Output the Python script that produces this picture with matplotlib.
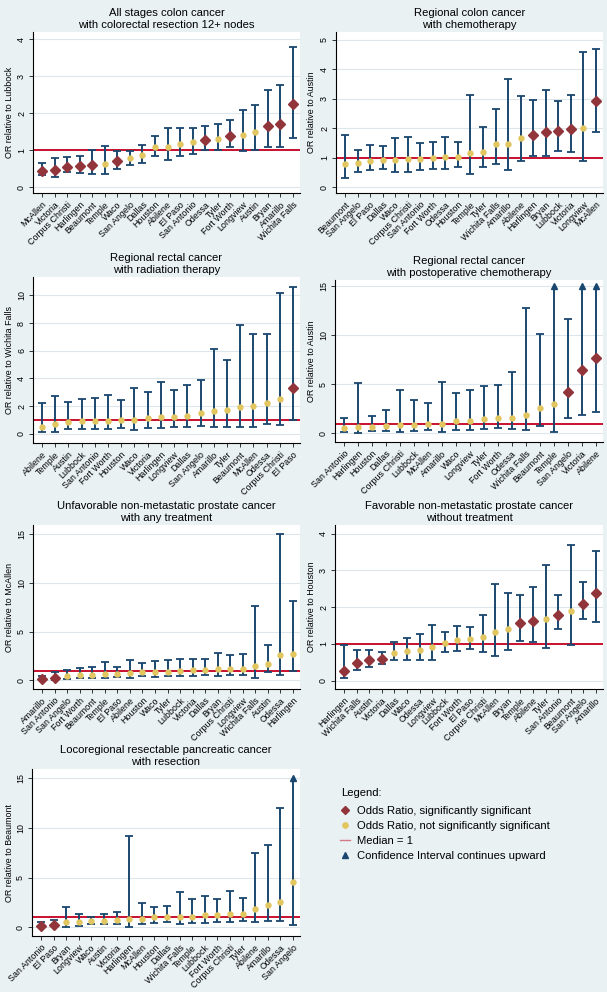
import matplotlib
matplotlib.use("Agg")
import matplotlib.pyplot as plt
from matplotlib.lines import Line2D

plt.rcParams["font.family"] = ["Liberation Sans", "DejaVu Sans"]

W, H = 607, 992
BG = "#e9f1f3"
NAVY = "#1a476f"
RED = "#91353b"
YEL = "#e2c660"
MED = "#c8102e"

# ── data: odds ratios with 95% CI ──────────────────────────────────────
p1_title = "All stages colon cancer\nwith colorectal resection 12+ nodes"
p1_ref = "Lubbock"
p1_names = ["McAllen", "Victoria", "Corpus Christi", "Harlingen", "Beaumont", "Temple", "Waco",
            "San Angelo", "Dallas", "Houston", "Abilene", "El Paso", "San Antonio", "Odessa",
            "Tyler", "Fort Worth", "Longview", "Austin", "Bryan", "Amarillo", "Wichita Falls"]
p1_or = [0.44, 0.46, 0.55, 0.57, 0.60, 0.63, 0.71, 0.78, 0.86, 1.09, 1.09, 1.16, 1.21, 1.28,
         1.30, 1.38, 1.42, 1.48, 1.65, 1.70, 2.24]
p1_lo = [0.32, 0.27, 0.40, 0.39, 0.35, 0.35, 0.50, 0.60, 0.65, 0.84, 0.72, 0.84, 0.90, 0.99,
         0.99, 1.09, 0.98, 1.00, 1.09, 1.09, 1.33]
p1_hi = [0.65, 0.79, 0.81, 0.85, 0.99, 1.11, 0.97, 0.98, 1.13, 1.38, 1.60, 1.60, 1.59, 1.65,
         1.71, 1.82, 2.07, 2.22, 2.61, 2.75, 3.78]
p1_sig = [1, 1, 1, 1, 1, 0, 1, 0, 0, 0, 0, 0, 0, 1, 0, 1, 0, 0, 1, 1, 1]

p2_title = "Regional colon cancer\nwith chemotherapy"
p2_ref = "Austin"
p2_names = ["Beaumont", "San Angelo", "El Paso", "Dallas", "Waco", "Corpus Christi", "San Antonio",
            "Fort Worth", "Odessa", "Houston", "Temple", "Tyler", "Wichita Falls", "Amarillo",
            "Abilene", "Harlingen", "Bryan", "Lubbock", "Victoria", "Longview", "McAllen"]
p2_or = [0.79, 0.81, 0.90, 0.92, 0.93, 0.94, 0.94, 0.98, 1.02, 1.02, 1.17, 1.20, 1.46, 1.46,
         1.67, 1.76, 1.86, 1.89, 1.98, 2.02, 2.93]
p2_lo = [0.32, 0.51, 0.59, 0.63, 0.52, 0.52, 0.59, 0.63, 0.62, 0.69, 0.44, 0.69, 0.79, 0.58,
         0.89, 1.06, 1.06, 1.23, 1.20, 0.89, 1.86]
p2_hi = [1.76, 1.26, 1.43, 1.39, 1.65, 1.71, 1.49, 1.53, 1.69, 1.53, 3.12, 2.04, 2.65, 3.65,
         3.10, 2.95, 3.29, 2.92, 3.14, 4.58, 4.69]
p2_sig = [0, 0, 0, 0, 0, 0, 0, 0, 0, 0, 0, 0, 0, 0, 0, 1, 1, 1, 1, 0, 1]

p3_title = "Regional rectal cancer\nwith radiation therapy"
p3_ref = "Wichita Falls"
p3_names = ["Abilene", "Temple", "Austin", "Lubbock", "San Antonio", "Fort Worth", "Houston", "Waco",
            "Victoria", "Harlingen", "Longview", "Dallas", "San Angelo", "Amarillo", "Tyler",
            "Beaumont", "McAllen", "Odessa", "Corpus Christi", "El Paso"]
p3_or = [0.46, 0.70, 0.84, 0.89, 0.94, 0.94, 0.99, 1.01, 1.13, 1.20, 1.23, 1.30, 1.47, 1.66,
         1.71, 1.90, 2.00, 2.19, 2.48, 3.33]
p3_lo = [0.10, 0.14, 0.31, 0.31, 0.31, 0.31, 0.39, 0.29, 0.41, 0.39, 0.46, 0.48, 0.55, 0.46,
         0.51, 0.46, 0.51, 0.70, 0.60, 1.01]
p3_hi = [2.19, 2.75, 2.29, 2.53, 2.55, 2.80, 2.43, 3.28, 2.99, 3.76, 3.13, 3.52, 3.90, 6.10,
         5.33, 7.88, 7.23, 7.23, 10.14, 10.63]
p3_sig = [0] * 19 + [1]

p4_title = "Regional rectal cancer\nwith postoperative chemotherapy"
p4_ref = "Austin"
p4_names = ["San Antonio", "Harlingen", "Houston", "Dallas", "Corpus Christi", "Lubbock", "McAllen",
            "Amarillo", "Waco", "Longview", "Tyler", "Fort Worth", "Odessa", "Wichita Falls",
            "Beaumont", "Temple", "San Angelo", "Victoria", "Abilene"]
p4_or = [0.54, 0.68, 0.64, 0.78, 0.85, 0.88, 0.92, 0.92, 1.25, 1.25, 1.42, 1.56, 1.59, 1.86,
         2.61, 3.02, 4.24, 6.47, 7.63]
p4_lo = [0.17, 0.07, 0.24, 0.24, 0.14, 0.24, 0.31, 0.17, 0.37, 0.37, 0.47, 0.58, 0.41, 0.31,
         0.78, 0.17, 1.59, 1.86, 2.14]
p4_hi = [1.59, 5.08, 1.76, 2.41, 4.44, 3.42, 3.08, 5.22, 4.14, 4.37, 4.78, 4.95, 6.20, 12.78,
         10.14, 15, 11.66, 15, 15]
p4_sig = [0] * 16 + [1, 1, 1]
p4_up = ["Temple", "Victoria", "Abilene"]

p5_title = "Unfavorable non-metastatic prostate cancer\nwith any treatment"
p5_ref = "McAllen"
p5_names = ["Amarillo", "San Antonio", "San Angelo", "Fort Worth", "Beaumont", "Temple", "El Paso",
            "Abilene", "Houston", "Waco", "Tyler", "Lubbock", "Victoria", "Dallas", "Bryan",
            "Corpus Christi", "Longview", "Wichita Falls", "Austin", "Odessa", "Harlingen"]
p5_or = [0.10, 0.24, 0.48, 0.58, 0.58, 0.65, 0.68, 0.71, 0.82, 0.82, 0.85, 0.99, 1.02, 1.02,
         1.12, 1.16, 1.19, 1.46, 1.70, 2.62, 2.69]
p5_lo = [0.04, 0.07, 0.17, 0.24, 0.24, 0.24, 0.34, 0.24, 0.41, 0.34, 0.41, 0.48, 0.48, 0.51,
         0.48, 0.58, 0.58, 0.27, 0.82, 0.51, 0.92]
p5_hi = [0.41, 0.82, 1.02, 1.29, 1.33, 1.84, 1.33, 2.11, 1.80, 1.94, 2.04, 2.18, 2.21, 2.14,
         2.82, 2.55, 2.65, 7.62, 3.67, 14.97, 8.16]
p5_sig = [1, 1] + [0] * 19

p6_title = "Favorable non-metastatic prostate cancer\nwithout treatment"
p6_ref = "Houston"
p6_names = ["Harlingen", "Wichita Falls", "Austin", "Victoria", "Dallas", "Waco", "Odessa",
            "Longview", "Lubbock", "Fort Worth", "El Paso", "Corpus Christi", "McAllen", "Bryan",
            "Temple", "Abilene", "Tyler", "San Antonio", "Beaumont", "San Angelo", "Amarillo"]
p6_or = [0.26, 0.48, 0.55, 0.58, 0.76, 0.81, 0.83, 0.91, 1.02, 1.10, 1.13, 1.20, 1.33, 1.40,
         1.56, 1.63, 1.67, 1.80, 1.89, 2.10, 2.39]
p6_lo = [0.06, 0.30, 0.37, 0.44, 0.57, 0.56, 0.55, 0.55, 0.79, 0.81, 0.85, 0.79, 0.68, 0.83,
         1.07, 1.05, 0.90, 1.41, 0.98, 1.67, 1.59]
p6_hi = [0.97, 0.84, 0.83, 0.78, 1.04, 1.17, 1.26, 1.52, 1.31, 1.50, 1.47, 1.80, 2.63, 2.39,
         2.32, 2.56, 3.15, 2.32, 3.70, 2.68, 3.54]
p6_sig = [1, 1, 1, 1, 0, 0, 0, 0, 0, 0, 0, 0, 0, 0, 1, 1, 0, 1, 0, 1, 1]

p7_title = "Locoregional resectable pancreatic cancer\nwith resection"
p7_ref = "Beaumont"
p7_names = ["San Antonio", "El Paso", "Bryan", "Longview", "Waco", "Austin", "Victoria", "Harlingen",
            "McAllen", "Houston", "Dallas", "Wichita Falls", "Temple", "Lubbock", "Fort Worth",
            "Corpus Christi", "Tyler", "Abilene", "Amarillo", "Odessa", "San Angelo"]
p7_or = [0.10, 0.27, 0.50, 0.53, 0.60, 0.67, 0.70, 0.80, 0.87, 1.00, 1.00, 1.04, 1.07, 1.20,
         1.20, 1.30, 1.34, 1.84, 2.21, 2.58, 4.52]
p7_lo = [0.03, 0.10, 0.07, 0.17, 0.33, 0.33, 0.33, 0.07, 0.37, 0.47, 0.50, 0.33, 0.40, 0.47,
         0.54, 0.54, 0.60, 0.50, 0.60, 0.60, 0.20]
p7_hi = [0.53, 0.77, 2.00, 1.37, 1.07, 1.37, 1.57, 9.16, 2.41, 2.07, 2.11, 3.55, 2.81, 3.18,
         2.81, 3.68, 2.94, 7.49, 8.26, 11.97, 15]
p7_sig = [1, 1] + [0] * 19
p7_up = ["San Angelo"]

panels = [
    # title, ref, names, or, lo, hi, sig, up, box (l, t, r, b px), ylim, yticks
    (p1_title, p1_ref, p1_names, p1_or, p1_lo, p1_hi, p1_sig, [], (33, 32, 300, 193), (-0.16, 4.19), range(0, 5)),
    (p2_title, p2_ref, p2_names, p2_or, p2_lo, p2_hi, p2_sig, [], (336, 32, 603, 193), (-0.2, 5.26), range(0, 6)),
    (p3_title, p3_ref, p3_names, p3_or, p3_lo, p3_hi, p3_sig, [], (33, 277, 300, 443), (-0.67, 11.33), range(0, 11, 2)),
    (p4_title, p4_ref, p4_names, p4_or, p4_lo, p4_hi, p4_sig, p4_up, (335, 280, 603, 442), (-0.87, 15.6), range(0, 16, 5)),
    (p5_title, p5_ref, p5_names, p5_or, p5_lo, p5_hi, p5_sig, [], (33, 525, 300, 689), (-0.88, 15.9), range(0, 16, 5)),
    (p6_title, p6_ref, p6_names, p6_or, p6_lo, p6_hi, p6_sig, [], (335, 525, 603, 689), (-0.23, 4.24), range(0, 5)),
    (p7_title, p7_ref, p7_names, p7_or, p7_lo, p7_hi, p7_sig, p7_up, (32, 769, 300, 936), (-0.87, 15.9), range(0, 16, 5)),
]

fig = plt.figure(figsize=(W / 100, H / 100), dpi=100, facecolor=BG)


def px_axes(l, t, r, b):
    return fig.add_axes([l / W, 1 - b / H, (r - l) / W, (b - t) / H])


for title, ref, names, ors, los, his, sig, up, box, ylim, yticks in panels:
    ax = px_axes(*box)
    ax.set_facecolor("white")
    n = len(names)
    xs = list(range(n))
    width_px = box[2] - box[0]
    step = (width_px - 16) / (n - 1)
    ax.set_xlim(-9 / step, n - 1 + 7 / step)
    ax.set_ylim(*ylim)

    for y in yticks:
        ax.axhline(y, color="#dde6ea", lw=0.8, zorder=0)
    ax.axhline(1, color=MED, lw=1.4, zorder=1)

    for i in xs:
        capped = names[i] in up
        ax.plot([i, i], [los[i], his[i]], color=NAVY, lw=1.4, zorder=2, solid_capstyle="butt")
        ax.plot([i], [los[i]], marker="_", ms=5.5, mew=1.3, color=NAVY, zorder=2)
        if capped:
            ax.plot([i], [his[i]], marker="^", ms=5, color=NAVY, mec=NAVY, zorder=3, clip_on=False)
        else:
            ax.plot([i], [his[i]], marker="_", ms=5.5, mew=1.3, color=NAVY, zorder=2)
        if sig[i]:
            ax.plot([i], [ors[i]], marker="D", ms=5, color=RED, mec=RED, zorder=4)
        else:
            ax.plot([i], [ors[i]], marker="o", ms=3.6, color=YEL, mec=YEL, zorder=4)

    ax.set_xticks(xs)
    ax.set_xticklabels(names, rotation=45, ha="right", rotation_mode="anchor", fontsize=6.4)
    ax.set_yticks(list(yticks))
    ax.set_yticklabels([str(v) for v in yticks], fontsize=6.4, rotation=90, va="center")
    ax.tick_params(axis="both", length=3, width=0.7, pad=2, color="#333333")
    for s in ["top", "right"]:
        ax.spines[s].set_visible(False)
    for s in ["left", "bottom"]:
        ax.spines[s].set_linewidth(0.8)
    ax.set_ylabel("OR relative to " + ref, fontsize=6.4)
    lab_x = 14 if box[0] < 300 else 316
    ax.yaxis.set_label_coords((lab_x - box[0]) / width_px, 0.5)
    ax.set_title(title, fontsize=8.1, pad=3, linespacing=1.2)

# legend panel
fig.text(341 / W, 1 - 793 / H, "Legend:", fontsize=8.1, va="center", ha="left")
handles = [
    Line2D([], [], ls="none", marker="D", ms=4.5, color=RED),
    Line2D([], [], ls="none", marker="o", ms=3.8, color=YEL),
    Line2D([], [], color="#d07a86", lw=1),
    Line2D([], [], ls="none", marker="^", ms=4.5, color=NAVY),
]
labels = ["Odds Ratio, significantly significant", "Odds Ratio, not significantly significant",
          "Median = 1", "Confidence Interval continues upward"]
leg = fig.legend(handles, labels, loc="upper left", bbox_to_anchor=(340 / W, 1 - 806 / H),
                 frameon=False, fontsize=8.1, handlelength=0.9, handletextpad=0.6,
                 labelspacing=0.45, borderaxespad=0, borderpad=0)

fig.savefig("out.png", dpi=100, facecolor=BG)
